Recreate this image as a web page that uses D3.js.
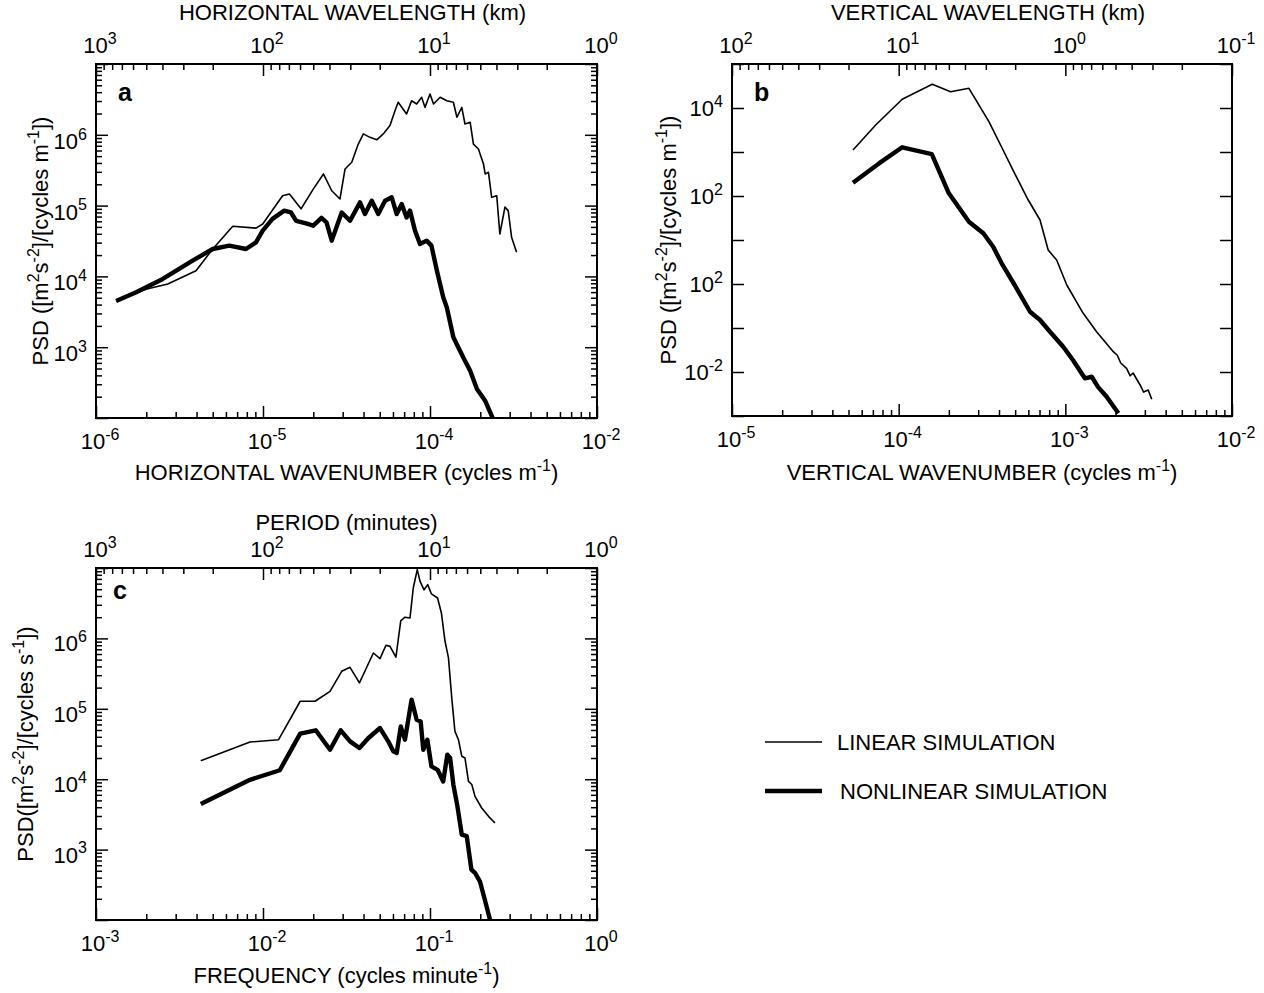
<!DOCTYPE html>
<html>
<head>
<meta charset="utf-8">
<script src="https://cdn.jsdelivr.net/npm/d3@7"></script>
<style>
  body { margin: 0; background: #fff; }
  text { font-family: "Liberation Sans", Arial, Helvetica, sans-serif; fill: #000; }
</style>
</head>
<body>
<svg id="fig" width="1264" height="993"></svg>
<script>
// ---- panel a : horizontal wavenumber spectra ----
const hLinK = [1.32e-6, 1.99e-6, 2.69e-6, 3.97e-6, 5.0e-6, 6.59e-6, 9.08e-6, 9.96e-6, 1.31e-5, 1.44e-5,
  1.69e-5, 2.0e-5, 2.30e-5, 2.58e-5, 2.89e-5, 3.10e-5, 3.40e-5, 3.72e-5, 3.99e-5, 4.37e-5,
  4.80e-5, 5.25e-5, 5.76e-5, 6.17e-5, 6.45e-5, 7.24e-5, 7.76e-5, 8.32e-5, 8.91e-5, 9.33e-5,
  1.0e-4, 1.05e-4, 1.15e-4, 1.26e-4, 1.38e-4, 1.45e-4, 1.55e-4, 1.62e-4, 1.74e-4, 1.82e-4,
  1.95e-4, 2.09e-4, 2.14e-4, 2.24e-4, 2.34e-4, 2.51e-4, 2.62e-4, 2.81e-4, 2.94e-4, 3.08e-4, 3.30e-4];
const hLinPSD = [4.5e3, 6.6e3, 7.8e3, 1.2e4, 2.44e4, 5.1e4, 4.8e4, 5.5e4, 1.38e5, 1.46e5,
  9.0e4, 1.71e5, 2.8e5, 1.62e5, 1.24e5, 3.29e5, 4.1e5, 7.4e5, 1.03e6, 9.2e5,
  8.5e5, 1.03e6, 1.35e6, 2.19e6, 2.88e6, 1.97e6, 3.03e6, 2.72e6, 3.39e6, 2.44e6,
  3.77e6, 2.72e6, 3.39e6, 3.03e6, 2.88e6, 1.77e6, 2.44e6, 1.42e6, 1.50e6, 7.4e5,
  6.3e5, 3.87e5, 2.8e5, 2.95e5, 1.31e5, 1.38e5, 3.97e4, 9.5e4, 8.5e4, 3.57e4, 2.19e4];
const hNonK = [1.32e-6, 1.74e-6, 2.51e-6, 3.79e-6, 5.0e-6, 6.28e-6, 7.91e-6, 9.08e-6, 9.96e-6, 1.14e-5,
  1.34e-5, 1.47e-5, 1.58e-5, 1.81e-5, 2.0e-5, 2.24e-5, 2.40e-5, 2.58e-5, 2.96e-5, 3.32e-5,
  3.81e-5, 4.08e-5, 4.48e-5, 4.90e-5, 5.38e-5, 5.90e-5, 6.32e-5, 6.77e-5, 7.24e-5, 7.59e-5,
  8.13e-5, 8.71e-5, 9.55e-5, 1.02e-4, 1.10e-4, 1.20e-4, 1.26e-4, 1.38e-4, 1.58e-4, 1.74e-4,
  1.91e-4, 2.14e-4, 2.34e-4, 2.45e-4];
const hNonPSD = [4.5e3, 5.96e3, 9.2e3, 1.67e4, 2.44e4, 2.72e4, 2.44e4, 3.03e4, 4.43e4, 6.5e4,
  8.5e4, 8.0e4, 6.1e4, 5.6e4, 5.2e4, 6.7e4, 5.8e4, 3.2e4, 8.0e4, 6.1e4,
  1.11e5, 7.6e4, 1.17e5, 7.6e4, 1.17e5, 1.31e5, 7.6e4, 1.05e5, 6.8e4, 8.5e4,
  4.43e4, 2.87e4, 3.2e4, 2.72e4, 1.2e4, 5.07e3, 3.66e3, 1.38e3, 7.2e2, 4.66e2,
  2.57e2, 1.75e2, 1.08e2, 8.5e1];

// ---- panel b : vertical wavenumber spectra ----
const vLinK = [5.32e-5, 7.28e-5, 1.05e-4, 1.59e-4, 2.05e-4, 2.64e-4, 3.48e-4, 4.23e-4, 4.92e-4, 5.99e-4,
  7.05e-4, 7.89e-4, 8.87e-4, 1.02e-3, 1.28e-3, 1.54e-3, 1.94e-3, 2.05e-3, 2.15e-3, 2.33e-3,
  2.45e-3, 2.55e-3, 2.81e-3, 2.95e-3, 3.14e-3, 3.30e-3];
const vLinPSD = [1.11e3, 4.1e3, 1.58e4, 3.46e4, 2.34e4, 2.8e4, 4.9e3, 1.11e3, 3.5e2, 81,
  28.5, 5.9, 3.5, 0.95, 0.216, 0.0824, 0.0289, 0.024, 0.016, 0.0121,
  0.0082, 0.0095, 5.07e-3, 3.5e-3, 3.9e-3, 2.4e-3];
const vNonK = [5.32e-5, 7.62e-5, 1.05e-4, 1.58e-4, 2.0e-4, 2.64e-4, 3.22e-4, 3.69e-4, 4.15e-4, 5.10e-4,
  6.14e-4, 7.05e-4, 8.09e-4, 9.71e-4, 1.11e-3, 1.31e-3, 1.44e-3, 1.57e-3, 1.77e-3, 2.08e-3];
const vNonPSD = [2.0e2, 5.5e2, 1.28e3, 8.9e2, 1.15e2, 26, 14.2, 7.0, 2.95, 0.80,
  0.234, 0.152, 0.082, 0.0376, 0.0187, 7.2e-3, 7.8e-3, 4.6e-3, 2.75e-3, 1.15e-3];

// ---- panel c : frequency spectra ----
const fLinF = [4.24e-3, 8.36e-3, 1.24e-2, 1.67e-2, 2.05e-2, 2.52e-2, 2.96e-2, 3.32e-2, 3.78e-2, 4.58e-2,
  5.02e-2, 5.45e-2, 5.76e-2, 6.25e-2, 6.68e-2, 7.08e-2, 7.59e-2, 7.94e-2, 8.39e-2, 8.71e-2,
  9.21e-2, 9.69e-2, 1.02e-1, 1.11e-1, 1.17e-1, 1.23e-1, 1.29e-1, 1.35e-1, 1.41e-1, 1.48e-1,
  1.55e-1, 1.62e-1, 1.70e-1, 1.78e-1, 1.86e-1, 2.04e-1, 2.24e-1, 2.45e-1];
const fLinPSD = [1.83e4, 3.37e4, 3.64e4, 1.28e5, 1.28e5, 1.77e5, 3.41e5, 3.88e5, 2.33e5, 6.2e5,
  5.15e5, 7.98e5, 7.7e5, 5.4e5, 1.78e6, 2.0e6, 1.95e6, 5.2e6, 9.5e6, 6.5e6,
  4.9e6, 5.8e6, 4.28e6, 3.75e6, 2.3e6, 9.1e5, 5.3e5, 1.42e5, 4.8e4, 3.64e4,
  2.12e4, 2.0e4, 9.3e3, 8.4e3, 5.7e3, 3.9e3, 2.97e3, 2.39e3];
const fNonF = [4.24e-3, 8.36e-3, 1.26e-2, 1.67e-2, 2.07e-2, 2.52e-2, 2.92e-2, 3.32e-2, 3.78e-2, 4.28e-2,
  5.02e-2, 5.62e-2, 6.03e-2, 6.32e-2, 6.68e-2, 7.08e-2, 7.76e-2, 8.32e-2, 8.79e-2, 9.12e-2,
  9.64e-2, 1.02e-1, 1.11e-1, 1.20e-1, 1.27e-1, 1.32e-1, 1.38e-1, 1.46e-1, 1.55e-1, 1.66e-1,
  1.77e-1, 1.86e-1, 1.99e-1, 2.13e-1, 2.29e-1, 2.33e-1];
const fNonPSD = [4.45e3, 9.8e3, 1.34e4, 4.43e4, 4.95e4, 2.62e4, 4.95e4, 3.45e4, 2.77e4, 3.85e4,
  5.33e4, 3.45e4, 2.49e4, 2.36e4, 5.6e4, 3.64e4, 1.35e5, 7.0e4, 6.6e4, 2.62e4,
  3.64e4, 1.52e4, 1.36e4, 9.3e3, 2.23e4, 2.0e4, 8.4e3, 4.1e3, 1.63e3, 1.55e3,
  5.2e2, 4.66e2, 3.55e2, 1.94e2, 1.0e2, 8.5e1];

// tick labels: decade values and the exponents as printed on the figure
const aBottomTicks = [1e-6, 1e-5, 1e-4, 1e-3], aBottomExp = ["-6", "-5", "-4", "-2"];
const aTopTicks = [1e3, 1e2, 1e1, 1e0], aTopExp = ["3", "2", "1", "0"];
const aLeftTicks = [1e6, 1e5, 1e4, 1e3], aLeftExp = ["6", "5", "4", "3"];
const bBottomTicks = [1e-5, 1e-4, 1e-3, 1e-2], bBottomExp = ["-5", "-4", "-3", "-2"];
const bTopTicks = [1e2, 1e1, 1e0, 1e-1], bTopExp = ["2", "1", "0", "-1"];
const bLeftTicks = [1e4, 1e2, 1e0, 1e-2], bLeftExp = ["4", "2", "2", "-2"];
const cBottomTicks = [1e-3, 1e-2, 1e-1, 1e0], cBottomExp = ["-3", "-2", "-1", "0"];
const cTopTicks = [1e3, 1e2, 1e1, 1e0], cTopExp = ["3", "2", "1", "0"];
const cLeftTicks = [1e6, 1e5, 1e4, 1e3], cLeftExp = ["6", "5", "4", "3"];

const legendNames = ["LINEAR SIMULATION", "NONLINEAR SIMULATION"];

const THIN = 1.6, THICK = 4.4;
const FS = 22, SUP = 16;

const svg = d3.select("#fig");

// decades and 2..9 minor values inside [lo, hi]
function decadeTicks(lo, hi) {
  const a = Math.min(lo, hi), b = Math.max(lo, hi);
  const major = [], minor = [];
  for (let e = Math.floor(Math.log10(a)) - 1; e <= Math.ceil(Math.log10(b)); e++) {
    const d = Math.pow(10, e);
    if (d >= a * 0.999 && d <= b * 1.001) major.push(d);
    for (let m = 2; m <= 9; m++) {
      const v = m * d;
      if (v > a && v < b) minor.push(v);
    }
  }
  return { major, minor };
}

// writes text made of [string, isSuperscript] pieces
function richText(sel, parts, fs, sup) {
  let up = false;
  parts.forEach(([s, isSup]) => {
    const t = sel.append("tspan").text(s);
    if (isSup && !up) { t.attr("dy", -fs * 0.42).attr("font-size", sup); up = true; }
    else if (isSup) { t.attr("font-size", sup); }
    else if (!isSup && up) { t.attr("dy", fs * 0.42); up = false; }
  });
  return sel;
}

function powLabel(g, x, y, exp, anchor) {
  const t = g.append("text").attr("x", x).attr("y", y)
    .attr("text-anchor", anchor).attr("font-size", FS);
  richText(t, [["10", false], [exp, true]], FS, SUP);
}

function drawPanel(p) {
  const g = svg.append("g");
  const { x, y, xTop } = p;
  const [L, R] = x.range();
  const [B, T] = y.range();

  const clipId = "clip-" + p.id;
  g.append("clipPath").attr("id", clipId)
    .append("rect").attr("x", L).attr("y", T).attr("width", R - L).attr("height", B - T);

  // ticks on all four sides, pointing inwards
  const bx = decadeTicks(...x.domain());
  const tx = decadeTicks(...xTop.domain());
  const ly = decadeTicks(...y.domain());
  const tickStyle = s => s.call(a => a.select(".domain").remove())
    .selectAll("line").attr("stroke", "#000").attr("stroke-width", 1.5);

  const sides = [
    [d3.axisBottom, x, bx, `translate(0,${B})`, true],
    [d3.axisTop, xTop, tx, `translate(0,${T})`, true],
    [d3.axisLeft, y, ly, `translate(${L},0)`, p.yMinor],
    [d3.axisRight, y, ly, `translate(${R},0)`, p.yMinor]
  ];
  sides.forEach(([ax, sc, tk, tr, withMinor]) => {
    g.append("g").attr("transform", tr)
      .call(ax(sc).tickValues(tk.major).tickSize(-12).tickFormat(""))
      .call(tickStyle);
    if (withMinor) {
      g.append("g").attr("transform", tr)
        .call(ax(sc).tickValues(tk.minor).tickSize(-6).tickFormat(""))
        .call(tickStyle);
    }
  });

  g.append("rect").attr("x", L).attr("y", T).attr("width", R - L).attr("height", B - T)
    .attr("fill", "none").attr("stroke", "#000").attr("stroke-width", 2);

  // tick labels
  p.bottomTicks.forEach((v, i) => powLabel(g, x(v) + 4, B + 31, p.bottomExp[i], "middle"));
  p.topTicks.forEach((v, i) => powLabel(g, xTop(v) + 4, T - 11, p.topExp[i], "middle"));
  p.leftTicks.forEach((v, i) => powLabel(g, L - 9, y(v) + p.labelDy, p.leftExp[i], "end"));

  // axis titles
  richText(g.append("text").attr("x", (L + R) / 2 + p.topDx).attr("y", p.topTitleY)
    .attr("text-anchor", "middle").attr("font-size", FS), p.topTitle, FS, SUP);
  richText(g.append("text").attr("x", (L + R) / 2).attr("y", p.bottomTitleY)
    .attr("text-anchor", "middle").attr("font-size", FS), p.bottomTitle, FS, SUP);
  richText(g.append("text")
    .attr("transform", `translate(${p.yTitleX},${(T + B) / 2}) rotate(-90)`)
    .attr("text-anchor", "middle").attr("font-size", FS), p.yTitle, FS, SUP);

  // panel letter
  g.append("text").attr("x", L + p.letter[0]).attr("y", T + p.letter[1])
    .attr("font-size", 25).attr("font-weight", "bold").text(p.id);

  // spectra
  const line = d3.line().x(d => x(d[0])).y(d => y(d[1]));
  const curves = g.append("g").attr("clip-path", `url(#${clipId})`);
  p.series.forEach(s => {
    curves.append("path").datum(d3.zip(s.xs, s.ys))
      .attr("d", line)
      .attr("fill", "none").attr("stroke", "#000")
      .attr("stroke-width", s.w)
      .attr("stroke-linejoin", "round").attr("stroke-linecap", "butt");
  });
}

const psdM = [["PSD ([m", false], ["2", true], ["s", false], ["-2", true], ["]/[cycles m", false], ["-1", true], ["])", false]];

drawPanel({
  id: "a", letter: [22, 37], labelDy: 14,
  x: d3.scaleLog().domain([1e-6, 1e-3]).range([96, 597]),
  xTop: d3.scaleLog().domain([1e3, 1e0]).range([96, 597]),
  y: d3.scaleLog().domain([1e2, 1e7]).range([418, 64]),
  yMinor: true,
  bottomTicks: aBottomTicks, bottomExp: aBottomExp,
  topTicks: aTopTicks, topExp: aTopExp,
  leftTicks: aLeftTicks, leftExp: aLeftExp,
  topTitle: [["HORIZONTAL WAVELENGTH (km)", false]], topTitleY: 20, topDx: 6,
  bottomTitle: [["HORIZONTAL WAVENUMBER (cycles m", false], ["-1", true], [")", false]], bottomTitleY: 480,
  yTitle: psdM, yTitleX: 48,
  series: [
    { xs: hLinK, ys: hLinPSD, w: THIN },
    { xs: hNonK, ys: hNonPSD, w: THICK }
  ]
});

drawPanel({
  id: "b", letter: [22, 37], labelDy: 8,
  x: d3.scaleLog().domain([1e-5, 1e-2]).range([732, 1232]),
  xTop: d3.scaleLog().domain([1e2, 1e-1]).range([732, 1232]),
  y: d3.scaleLog().domain([1e-3, 1e5]).range([416, 64]),
  yMinor: false,
  bottomTicks: bBottomTicks, bottomExp: bBottomExp,
  topTicks: bTopTicks, topExp: bTopExp,
  leftTicks: bLeftTicks, leftExp: bLeftExp,
  topTitle: [["VERTICAL WAVELENGTH (km)", false]], topTitleY: 20, topDx: 6,
  bottomTitle: [["VERTICAL WAVENUMBER (cycles m", false], ["-1", true], [")", false]], bottomTitleY: 480,
  yTitle: psdM, yTitleX: 676,
  series: [
    { xs: vLinK, ys: vLinPSD, w: THIN },
    { xs: vNonK, ys: vNonPSD, w: THICK }
  ]
});

drawPanel({
  id: "c", letter: [17, 31], labelDy: 13,
  x: d3.scaleLog().domain([1e-3, 1e0]).range([96, 597]),
  xTop: d3.scaleLog().domain([1e3, 1e0]).range([96, 597]),
  y: d3.scaleLog().domain([1e2, 1e7]).range([920, 568]),
  yMinor: true,
  bottomTicks: cBottomTicks, bottomExp: cBottomExp,
  topTicks: cTopTicks, topExp: cTopExp,
  leftTicks: cLeftTicks, leftExp: cLeftExp,
  topTitle: [["PERIOD (minutes)", false]], topTitleY: 530, topDx: 0,
  bottomTitle: [["FREQUENCY (cycles minute", false], ["-1", true], [")", false]], bottomTitleY: 983,
  yTitle: [["PSD([m", false], ["2", true], ["s", false], ["-2", true], ["]/[cycles s", false], ["-1", true], ["])", false]],
  yTitleX: 33,
  series: [
    { xs: fLinF, ys: fLinPSD, w: THIN },
    { xs: fNonF, ys: fNonPSD, w: THICK }
  ]
});

// legend
const legend = svg.append("g");
const legendY = d3.scalePoint().domain(legendNames).range([742, 791]);
const legendW = [THIN, THICK];
legendNames.forEach((name, i) => {
  legend.append("line")
    .attr("x1", 765).attr("x2", 822)
    .attr("y1", legendY(name)).attr("y2", legendY(name))
    .attr("stroke", "#000").attr("stroke-width", legendW[i]);
  legend.append("text")
    .attr("x", 837 + i * 3).attr("y", legendY(name) + 8)
    .attr("font-size", 22).text(name);
});
</script>
</body>
</html>
